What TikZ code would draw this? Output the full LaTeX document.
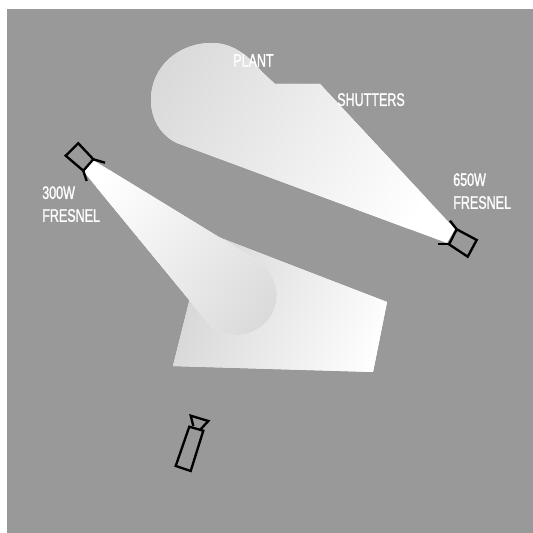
\documentclass[tikz,border=0pt]{standalone}
\usepackage{fontspec}
\usepackage{xcolor}
\newfontfamily\lblfont[FakeStretch=0.69,FakeBold=1.2]{Liberation Sans}
\usetikzlibrary{positioning}
\definecolor{stagegray}{RGB}{153,153,153}
\definecolor{beamfar}{RGB}{204,204,204}
\definecolor{patchfar}{RGB}{210,210,210}
\tikzset{
  lbl/.style  = {text=white, align=left, inner sep=0pt, anchor=north west,
                 font=\lblfont\fontsize{15.5}{19.5}\selectfont},
  lamp/.style = {draw=black, line width=2pt, line join=miter}
}

\begin{document}
\begin{tikzpicture}[x=0.03cm, y=0.03cm]
\useasboundingbox (0,0) rectangle (533,533);
\fill[stagegray] (7,0) rectangle (533,524);

%% Beam on the plant
\begin{scope}
  \clip (177,390) .. controls (160,398) and (151,415) .. (151,433)
        .. controls (151,466) and (178,490) .. (212,490)
        .. controls (232,490) and (248,478) .. (262,461)
        -- (275,449) -- (320,449) -- (455,304) -- (447,290) -- cycle;
  \fill[white] (0,0) rectangle (533,533);
  \shade[transform canvas={shift={(416,316)}, rotate=151},
         left color=white, right color=beamfar] (0,-300) rectangle (400,300);
\end{scope}

%% Patch on the floor
\begin{scope}
  \clip (173,167) -- (373,161) -- (387,231) -- (213,298) -- (190,235) -- cycle;
  \fill[white] (0,0) rectangle (533,533);
  \shade[transform canvas={shift={(160,240)}, rotate=-20},
         left color=patchfar, right color=white] (0,-300) rectangle (227,300);
\end{scope}

%% Beam on the floor
\begin{scope}
  \clip (84,361) -- (93,373) -- (258,272)
        arc[start angle=58, end angle=-140, radius=1.2cm] -- cycle;
  \fill[white] (0,0) rectangle (533,533);
  \shade[transform canvas={shift={(103,354)}, rotate=-40.9},
         left color=white, right color=beamfar] (0,-300) rectangle (300,300);
\end{scope}

%% Lamps
\draw[lamp] (78.3,389.7) -- (65.7,377.3) -- (83.3,362.3) -- (93.3,373.7) -- cycle;
\draw[lamp] (93.3,373.7) -- (105,370.3);
\draw[lamp] (83.3,362.3) -- (86.7,352);

\draw[lamp] (456.7,303.7) -- (476.7,293) -- (467.7,276.3) -- (449,288.7) -- cycle;
\draw[lamp] (456.7,303.7) -- (450,312.3);
\draw[lamp] (449,288.7) -- (437.7,288.7);

\draw[lamp] (189.3,106.3) -- (203.3,102.3) -- (190.7,62) -- (175.7,67) -- cycle;
\draw[lamp] (193.3,107) -- (190.7,117.3) -- (208.3,112) -- (200,103);

\node[lbl] (plant)    at (233,479) {PLANT};
\node[lbl] (shutters) at (337,440) {SHUTTERS};
\node[lbl] (fres300)  at (42,347)  {300W\\FRESNEL};
\node[lbl] (fres650)  at (453,360) {650W\\FRESNEL};

\end{tikzpicture}
\end{document}
